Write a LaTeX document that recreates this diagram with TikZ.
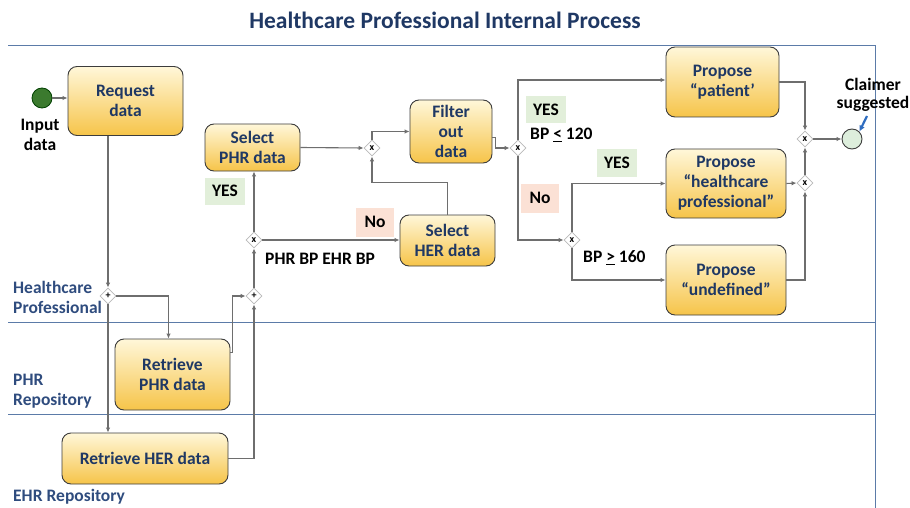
\documentclass[tikz,border=0pt]{standalone}
\usepackage{fontspec}
\setmainfont{Carlito}
\usetikzlibrary{arrows.meta,shapes.geometric,calc}
\definecolor{navy}{HTML}{1F3864}
\definecolor{lanecol}{HTML}{5B7BA8}
\definecolor{lanetxt}{HTML}{2F4C7E}
\definecolor{flowcol}{HTML}{6E6E6E}
\definecolor{taskedge}{HTML}{3C3C3C}
\definecolor{tasktop}{HTML}{FFF7D9}
\definecolor{taskbot}{HTML}{F6C449}
\definecolor{yesfill}{HTML}{E2EFDA}
\definecolor{nofill}{HTML}{FBE1D5}
\definecolor{startfill}{HTML}{3B7A2E}
\definecolor{endfill}{HTML}{DDEEDC}
\definecolor{notecol}{HTML}{2F6DC0}
\begin{document}
\begin{tikzpicture}[x=1pt,y=-1pt,
  font=\bfseries\fontsize{17.5}{20}\selectfont,
  task/.style={draw=taskedge, line width=0.9pt, rounded corners=9pt,
    top color=tasktop, bottom color=taskbot, text=navy, align=center,
    inner sep=1pt},
  gate/.style={diamond, draw=gray!55, fill=white, line width=0.8pt,
    minimum size=16pt, inner sep=0pt,
    font=\bfseries\fontsize{10}{10}\selectfont},
  flow/.style={draw=flowcol, line width=1.1pt,
    -{Latex[length=5pt,width=4.5pt]}},
  lane/.style={draw=lanecol, line width=0.9pt},
  lanelabel/.style={text=lanetxt, align=left, anchor=west, inner sep=0pt},
  yesbox/.style={fill=yesfill, minimum width=40pt, minimum height=27pt, inner sep=1pt},
  nobox/.style={fill=nofill, minimum width=38pt, minimum height=29pt, inner sep=1pt},
  cond/.style={anchor=west, inner sep=0pt, text=black}]

\useasboundingbox (0,0) rectangle (910,508);

% title
\node[text=navy, font=\bfseries\fontsize{23.5}{28}\selectfont] (title) at (445,20)
  {Healthcare Professional Internal Process};

% pool and lanes
\draw[lane] (8,45) -- (875,45) -- (875,508);
\draw[lane] (8,322) -- (875,322);
\draw[lane] (8,414) -- (875,414);
\node[lanelabel] (lhp) at (13,297) {Healthcare\\Professional};
\node[lanelabel] (lphr) at (13,391) {PHR\\Repository};
\node[lanelabel] (lehr) at (13,497) {EHR Repository};

% events
\node[circle, draw=green!25!black, fill=startfill, minimum size=20pt, inner sep=0pt,
  line width=0.8pt] (start) at (42,98) {};
\node[align=center, text=black] (inlbl) at (40,135) {Input\\data};
\node[circle, draw=taskedge, fill=endfill, minimum size=20pt, inner sep=0pt,
  line width=0.9pt] (end) at (852,139) {};
\node[align=center, text=black] (endlbl) at (873,95) {Claimer\\[-2pt]suggested};

% tasks
\node[task, minimum width=115pt, minimum height=69pt] (req)  at (125.5,101) {Request\\data};
\node[task, minimum width=95pt,  minimum height=47pt] (sphr) at (252.5,147.5) {Select\\PHR data};
\node[task, minimum width=82pt,  minimum height=63pt] (filt) at (451,131.5) {Filter\\out\\data};
\node[task, minimum width=95pt,  minimum height=51pt] (sher) at (447.5,240.5) {Select\\HER data};
\node[task, minimum width=113pt, minimum height=70pt] (pp)   at (722.5,82) {Propose\\``patient'};
\node[task, minimum width=120pt, minimum height=69pt] (php)  at (726,183.5) {Propose\\``healthcare\\professional''};
\node[task, minimum width=120pt, minimum height=70pt] (pu)   at (726,280) {Propose\\``undefined''};
\node[task, minimum width=115pt, minimum height=71pt] (rphr) at (172.5,374.5) {Retrieve\\PHR data};
\node[task, minimum width=166pt, minimum height=51pt] (rher) at (145,458.5) {Retrieve HER data};

% gateways
\node[gate] (g1) at (108,296) {+};
\node[gate] (g2) at (254,296) {+};
\node[gate] (g3) at (254,240) {x};
\node[gate] (g4) at (372,148) {x};
\node[gate] (g5) at (518,148) {x};
\node[gate] (g6) at (572,240) {x};
\node[gate] (g7) at (805,139) {x};
\node[gate] (g8) at (805,183) {x};

% condition labels
\node[yesbox] (yes1) at (225,191) {YES};
\node[nobox]  (no1)  at (375,222) {No};
\node[yesbox] (yes2) at (546,110) {YES};
\node[nobox]  (no2)  at (540,198) {No};
\node[yesbox] (yes3) at (617,163) {YES};
\node[cond] (c1) at (265,259) {PHR BP EHR BP};
\node[cond] (c2) at (530,135) {BP \underline{<} 120};
\node[cond] (c3) at (583,258) {BP \underline{>} 160};

% sequence flows
\draw[flow] (start.east) -- (start.east -| req.west);
\draw[flow] (g1 |- req.south) -- (g1.north);
\draw[flow] (g1.east) -| ($(rphr.north)+(-4,0)$);
\draw[flow] (g1.south) -- (g1 |- rher.north);
\draw[flow] ($(rphr.north east)+(0,14)$) -- ++(2,0) |- (g2.west);
\draw[flow] (rher.east) -| (g2.south);
\draw[flow] (g2.north) -- (g3.south);
\draw[flow] (g3.north) -- (g3 |- sphr.south);
\draw[flow] (g3.east) -- (g3.east -| sher.west);
\draw[flow] (sphr.east) -- (g4.west);
\draw[flow] (sher.north) -- ++(0,-32) -| (g4.south);
\draw[flow] (g4.north) |- (filt.west);
\draw[flow] ($(filt.east)+(0,6)$) -- ++(3,0) |- (g5.west);
\draw[flow] (g5.north) |- ($(pp.west)+(0,-2)$);
\draw[flow] (g5.south) |- (g6.west);
\draw[flow] (g6.north) |- (php.west);
\draw[flow] (g6.south) |- (pu.west);
\draw[flow] (pp.east) -| (g7.north);
\draw[flow] (php.east) -- (g8.west);
\draw[flow] (pu.east) -| (g8.south);
\draw[flow] (g8.north) -- (g7.south);
\draw[flow] (g7.east) -- (end.west);

% annotation pointer
\coordinate (notetail) at (867,116);
\draw[notecol, line width=2.2pt, -{Latex[length=6pt,width=6pt]}] (notetail) -- (end.north east);
\end{tikzpicture}
\end{document}
